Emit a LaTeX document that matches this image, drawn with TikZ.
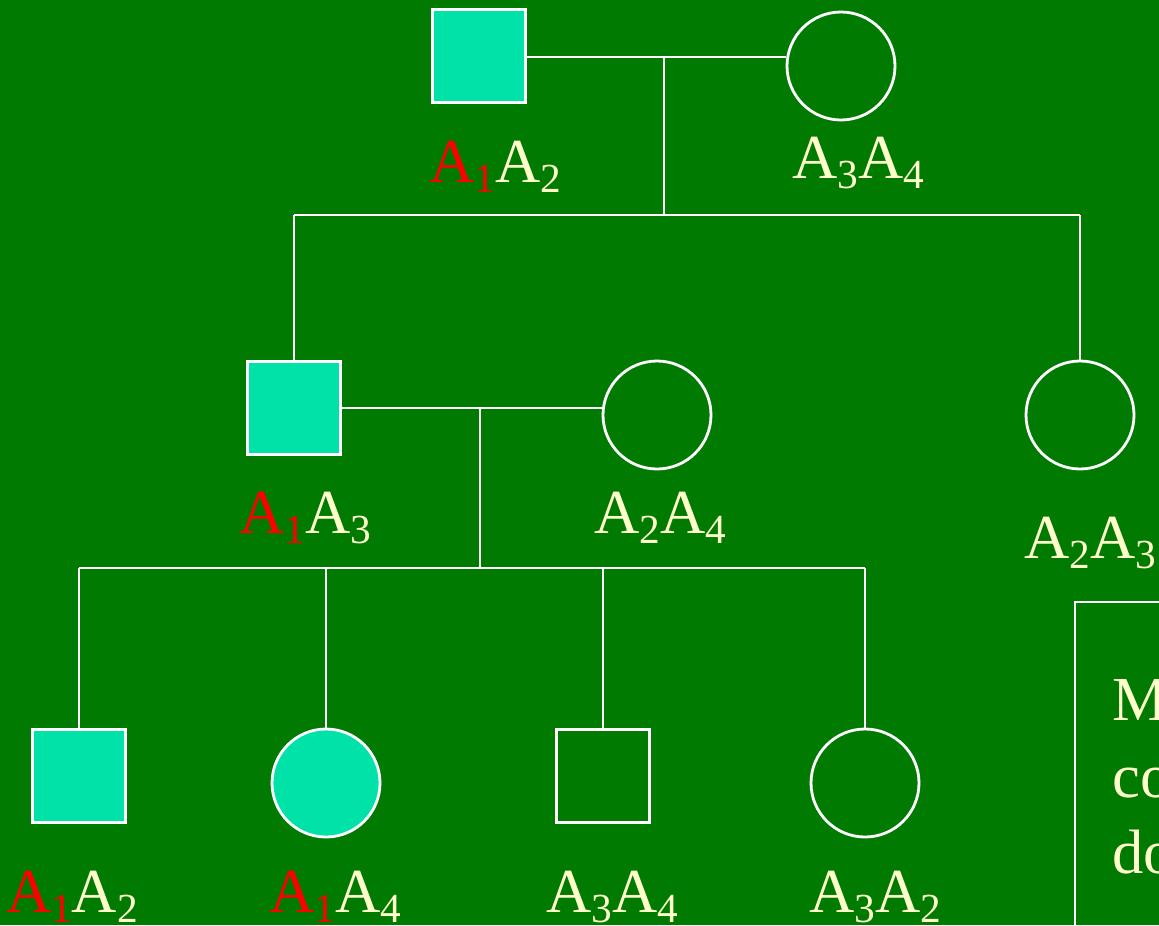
\documentclass[tikz,border=0pt]{standalone}
\usepackage{fontspec}
\setmainfont{Liberation Serif}
\definecolor{bg}{RGB}{0,122,0}
\definecolor{aff}{RGB}{0,226,168}
\definecolor{txt}{RGB}{255,255,204}
\definecolor{rd}{RGB}{255,0,0}
\newcommand{\subn}[1]{\raisebox{-0.16em}{\fontsize{31}{31}\selectfont #1}}
\newcommand{\one}{\textcolor{rd}{A\subn{1}}}
\tikzset{
  ln/.style={draw=white, line width=2.1pt},
  sq/.style={rectangle, draw=white, line width=2.1pt, minimum size=70pt, inner sep=0pt},
  ci/.style={circle, draw=white, line width=2.1pt, minimum size=81pt, inner sep=0pt},
  affd/.style={fill=aff},
  lab/.style={anchor=base, inner sep=0pt, text=txt, font=\fontsize{47}{56}\selectfont},
}
\begin{document}
\begin{tikzpicture}[x=0.75pt,y=-0.75pt]
\useasboundingbox (0,0) rectangle (1159,925);
\clip (0,0) rectangle (1159,925);
\fill[bg] (0,0) rectangle (1159,925);
% generation 1
\node[sq, affd] (f1) at (479,56) {};
\node[ci] (m1) at (841,66) {};
\node[lab] (lf1) at (495,182) {\one A\subn{2}};
\node[lab] (lm1) at (858,178) {A\subn{3}A\subn{4}};
\coordinate (j1) at (664,57);
\coordinate (s1) at (664,215);
\coordinate (s1l) at (294,215);
\coordinate (s1r) at (1080,215);
\draw[ln] (f1.east |- j1) -- (m1.west |- j1);
\draw[ln] (j1) -- (s1);
\draw[ln] (s1l) -- (s1r);
% generation 2
\node[sq, affd] (f2) at (294,408) {};
\node[ci] (m2) at (657,415) {};
\node[ci] (d2) at (1080,415) {};
\node[lab] (lf2) at (305,533) {\one A\subn{3}};
\node[lab] (lm2) at (660,533) {A\subn{2}A\subn{4}};
\node[lab] (ld2) at (1090,558) {A\subn{2}A\subn{3}};
\draw[ln] (s1l) -- (f2.north);
\draw[ln] (s1r) -- (d2.north);
\coordinate (j2) at (480,408);
\coordinate (s2) at (480,568);
\coordinate (s2l) at (79,568);
\coordinate (s2r) at (865,568);
\draw[ln] (f2.east) -- (m2.west |- j2);
\draw[ln] (j2) -- (s2);
\draw[ln] (s2l) -- (s2r);
% generation 3
\node[sq, affd] (c1) at (79,776) {};
\node[ci, affd] (c2) at (326,783) {};
\node[sq] (c3) at (603,776) {};
\node[ci] (c4) at (865,783) {};
\draw[ln] (s2l) -- (c1.north);
\draw[ln] (c2.north |- s2) -- (c2.north);
\draw[ln] (c3.north |- s2) -- (c3.north);
\draw[ln] (s2r) -- (c4.north);
\node[lab] (lc1) at (72,912) {\one A\subn{2}};
\node[lab] (lc2) at (335,912) {\one A\subn{4}};
\node[lab] (lc3) at (612,912) {A\subn{3}A\subn{4}};
\node[lab] (lc4) at (875,912) {A\subn{3}A\subn{2}};
% note box (cut by the edge)
\node[draw=white, line width=1.8pt, minimum width=300pt, minimum height=300pt, anchor=north west, inner sep=0pt] (box) at (1074,601) {};
\node[lab, anchor=base west] (t1) at (1112,720) {M};
\node[lab, anchor=base west] (t2) at (1112,797) {co};
\node[lab, anchor=base west] (t3) at (1112,873) {do};
\end{tikzpicture}
\end{document}
